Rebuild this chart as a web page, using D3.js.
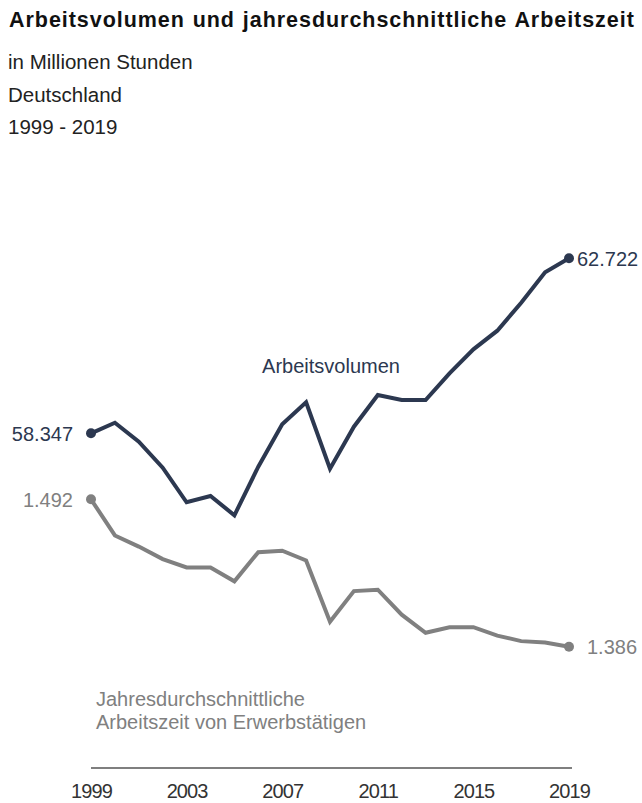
<!DOCTYPE html>
<html>
<head>
<meta charset="utf-8">
<script src="https://cdn.jsdelivr.net/npm/d3@7"></script>
<style>
  html, body { margin: 0; padding: 0; background: #fff; }
  svg { display: block; font-family: "Liberation Sans", Arial, sans-serif; }
</style>
</head>
<body>
<svg id="chart" width="642" height="803"></svg>
<script>
// Jahre 1999–2019
const years = d3.range(1999, 2020);

// Arbeitsvolumen in Millionen Stunden
const arbeitsvolumen = [
  58347, 58612, 58137, 57487, 56622, 56780, 56297, 57512, 58572, 59122,
  57462, 58512, 59304, 59179, 59180, 59847, 60447, 60912, 61612, 62372, 62722
];

// Jahresdurchschnittliche Arbeitszeit je Erwerbstätigen in Stunden
const arbeitszeit = [
  1492, 1466, 1458, 1449, 1443, 1443, 1433, 1454, 1455, 1448,
  1404, 1426, 1427, 1409, 1396, 1400, 1400, 1394, 1390, 1389, 1386
];

const tickYears = [1999, 2003, 2007, 2011, 2015, 2019];

const titleText = "Arbeitsvolumen und jahresdurchschnittliche Arbeitszeit";
const subtitleLines = ["in Millionen Stunden", "Deutschland", "1999 - 2019"];
const seriesLabelVol = "Arbeitsvolumen";
const seriesLabelHrs = ["Jahresdurchschnittliche", "Arbeitszeit von Erwerbstätigen"];

const colVol = "#2c3850";
const colHrs = "#808080";

const de = d3.formatLocale({ decimal: ",", thousands: ".", grouping: [3], currency: ["", " €"] });
const fmt = de.format(",d");

const svg = d3.select("#chart");

// Titel und Untertitel
svg.append("text")
  .attr("x", 9).attr("y", 27)
  .attr("font-size", 21.5).attr("font-weight", "bold")
  .attr("letter-spacing", 0.95)
  .attr("word-spacing", 1)
  .attr("fill", "#111")
  .text(titleText);

svg.selectAll("text.sub")
  .data(subtitleLines)
  .join("text")
  .attr("class", "sub")
  .attr("x", 8)
  .attr("y", (d, i) => 69 + i * 32.5)
  .attr("font-size", 20.5)
  .attr("fill", "#222")
  .text(d => d);

// Skalen
const x = d3.scaleLinear().domain([1999, 2019]).range([91, 569]);
const yVol = d3.scaleLinear().domain([58347, 62722]).range([433.3, 258.3]);
const yHrs = d3.scaleLinear().domain([1386, 1492]).range([646.7, 499.3]);

const volData = years.map((yr, i) => ({ yr, v: arbeitsvolumen[i] }));
const hrsData = years.map((yr, i) => ({ yr, v: arbeitszeit[i] }));

// x-Achse
const axisY = 768;
const xAxis = d3.axisBottom(x)
  .tickValues(tickYears)
  .tickFormat(d3.format("d"))
  .tickSize(0)
  .tickPadding(16);

const gx = svg.append("g")
  .attr("transform", `translate(0,${axisY})`)
  .call(xAxis);
gx.select(".domain").attr("stroke", "#555").attr("stroke-width", 1.5)
  .attr("d", `M${x(1999)},0H${x(2019) + 3}`);
gx.selectAll(".tick text")
  .attr("font-size", 20)
  .attr("letter-spacing", -0.9)
  .attr("font-family", "Liberation Sans, Arial, sans-serif")
  .attr("fill", "#333");

// Linien
const lineVol = d3.line().x(d => x(d.yr)).y(d => yVol(d.v));
const lineHrs = d3.line().x(d => x(d.yr)).y(d => yHrs(d.v));

svg.append("path")
  .datum(hrsData)
  .attr("fill", "none")
  .attr("stroke", colHrs)
  .attr("stroke-width", 4)
  .attr("stroke-linejoin", "miter")
  .attr("d", lineHrs);

svg.append("path")
  .datum(volData)
  .attr("fill", "none")
  .attr("stroke", colVol)
  .attr("stroke-width", 4)
  .attr("stroke-linejoin", "miter")
  .attr("d", lineVol);

// Endpunkte
const ends = [
  { s: volData[0], y: yVol, c: colVol },
  { s: volData[volData.length - 1], y: yVol, c: colVol },
  { s: hrsData[0], y: yHrs, c: colHrs },
  { s: hrsData[hrsData.length - 1], y: yHrs, c: colHrs }
];
svg.selectAll("circle.end")
  .data(ends)
  .join("circle")
  .attr("class", "end")
  .attr("cx", d => x(d.s.yr))
  .attr("cy", d => d.y(d.s.v))
  .attr("r", 5)
  .attr("fill", d => d.c);

// Wertbeschriftungen an den Endpunkten
const valueLabels = [
  { s: volData[0], y: yVol, c: colVol, anchor: "end", dx: -18 },
  { s: volData[volData.length - 1], y: yVol, c: colVol, anchor: "start", dx: 8 },
  { s: hrsData[0], y: yHrs, c: colHrs, anchor: "end", dx: -18 },
  { s: hrsData[hrsData.length - 1], y: yHrs, c: colHrs, anchor: "start", dx: 18 }
];
svg.selectAll("text.val")
  .data(valueLabels)
  .join("text")
  .attr("class", "val")
  .attr("x", d => x(d.s.yr) + d.dx)
  .attr("y", d => d.y(d.s.v))
  .attr("dy", "0.36em")
  .attr("text-anchor", d => d.anchor)
  .attr("font-size", 20)
  .attr("fill", d => d.c)
  .text(d => fmt(d.s.v));

// Serienbeschriftungen
svg.append("text")
  .attr("x", 331).attr("y", 373)
  .attr("text-anchor", "middle")
  .attr("font-size", 20)
  .attr("fill", colVol)
  .text(seriesLabelVol);

svg.selectAll("text.hrslab")
  .data(seriesLabelHrs)
  .join("text")
  .attr("class", "hrslab")
  .attr("x", 96)
  .attr("y", (d, i) => 706 + i * 23)
  .attr("font-size", 20)
  .attr("fill", colHrs)
  .text(d => d);
</script>
</body>
</html>
